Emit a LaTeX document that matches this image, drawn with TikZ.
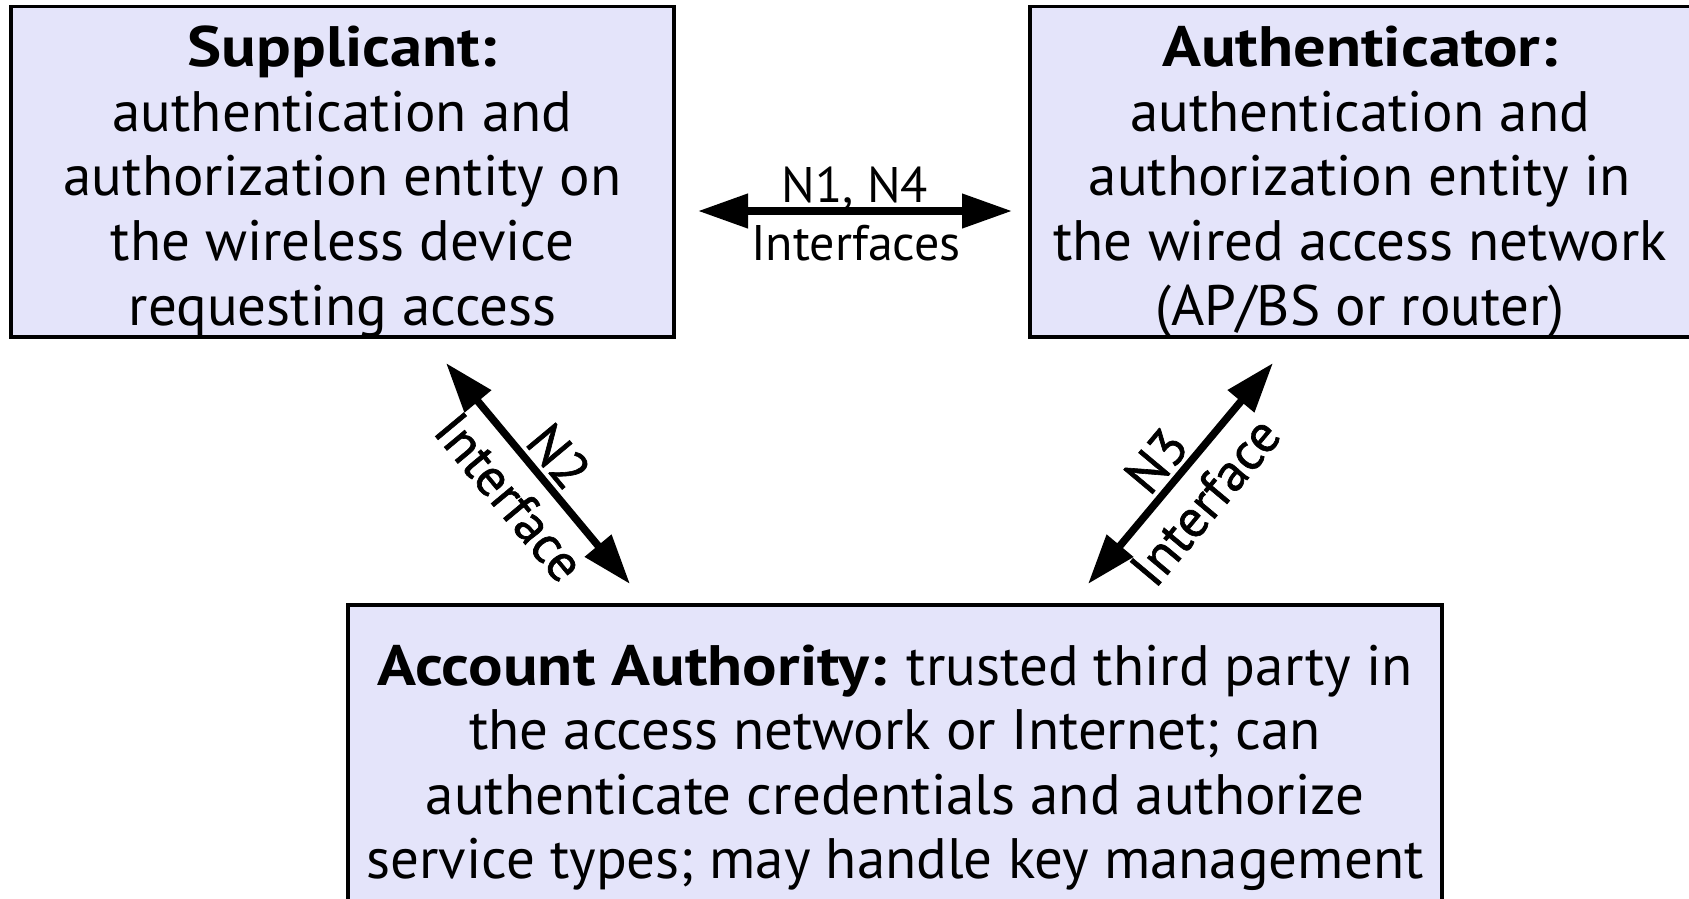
\documentclass[tikz,border=0pt]{standalone}
\usepackage{fontspec}
\setmainfont{PT Sans}[BoldFeatures={FakeStretch=1.13}]
\newfontfamily\diagfont{PT Sans}[FakeBold=1.2]
\usetikzlibrary{arrows.meta}
\definecolor{boxfill}{RGB}{228,228,250}
\tikzset{
  box/.style={draw=black, line width=3.5pt, fill=boxfill, inner sep=0pt},
  txt/.style={anchor=base, inner sep=0pt, font=\fontsize{57}{64.6}\selectfont},
  lbl/.style={inner sep=0pt, font=\fontsize{50}{58}\selectfont},
  dlbl/.style={font=\diagfont\fontsize{53}{60}\selectfont, sloped},
  conn/.style={line width=7.5pt, {Triangle[length=50pt,width=33pt]}-{Triangle[length=50pt,width=33pt]}, shorten <=0pt, shorten >=0pt},
}
\begin{document}
\begin{tikzpicture}[x=1pt,y=-1pt]
\useasboundingbox (0,0) rectangle (1689,898);
% boxes
\node[box, minimum width=663pt, minimum height=330.5pt] (sup) at (342.5,171.75) {};
\node[box, minimum width=662pt, minimum height=330.5pt] (auth) at (1361,171.75) {};
\node[box, minimum width=1094pt, minimum height=320pt] (acc) at (895,765) {};
% supplicant text
\node[txt] (s1) at (342.5,66.7) {\textbf{Supplicant:}};
\node[txt] (s2) at (342.5,131.3) {authentication and};
\node[txt] (s3) at (342.5,195.9) {authorization entity on};
\node[txt] (s4) at (342.5,260.5) {the wireless device};
\node[txt] (s5) at (342.5,325.1) {requesting access};
% authenticator text
\node[txt] (a1) at (1360,66.7) {\textbf{Authenticator:}};
\node[txt] (a2) at (1360,131.3) {authentication and};
\node[txt] (a3) at (1360,195.9) {authorization entity in};
\node[txt] (a4) at (1360,260.5) {the wired access network};
\node[txt] (a5) at (1360,325.1) {(AP/BS or router)};
% account authority text
\node[txt] (c1) at (895,685) {\textbf{Account Authority:} trusted third party in};
\node[txt] (c2) at (895,749.6) {the access network or Internet; can};
\node[txt] (c3) at (895,814.2) {authenticate credentials and authorize};
\node[txt] (c4) at (895,878.8) {service types; may handle key management};
% connectors
\coordinate (h1) at (698,211);
\coordinate (h2) at (1012,211);
\coordinate (d1) at (446,363);
\coordinate (d2) at (630,584);
\coordinate (e1) at (1088,584);
\coordinate (e2) at (1273,363);
\draw[conn] (h1) -- (h2);
\node[lbl, anchor=base] (n14) at (855,202.7) {N1, N4};
\node[lbl, anchor=base] (ifs) at (856,260) {Interfaces};
\draw[conn] (d1) -- node[dlbl, pos=0.5, above, inner sep=4pt] (n2) {N2}
                    node[dlbl, pos=0.5, below, inner sep=14pt] (if2) {Interface} (d2);
\draw[conn] (e1) -- node[dlbl, pos=0.48, above, inner sep=4pt] (n3) {N3}
                    node[dlbl, pos=0.48, below, inner sep=14pt] (if3) {Interface} (e2);
\end{tikzpicture}
\end{document}
